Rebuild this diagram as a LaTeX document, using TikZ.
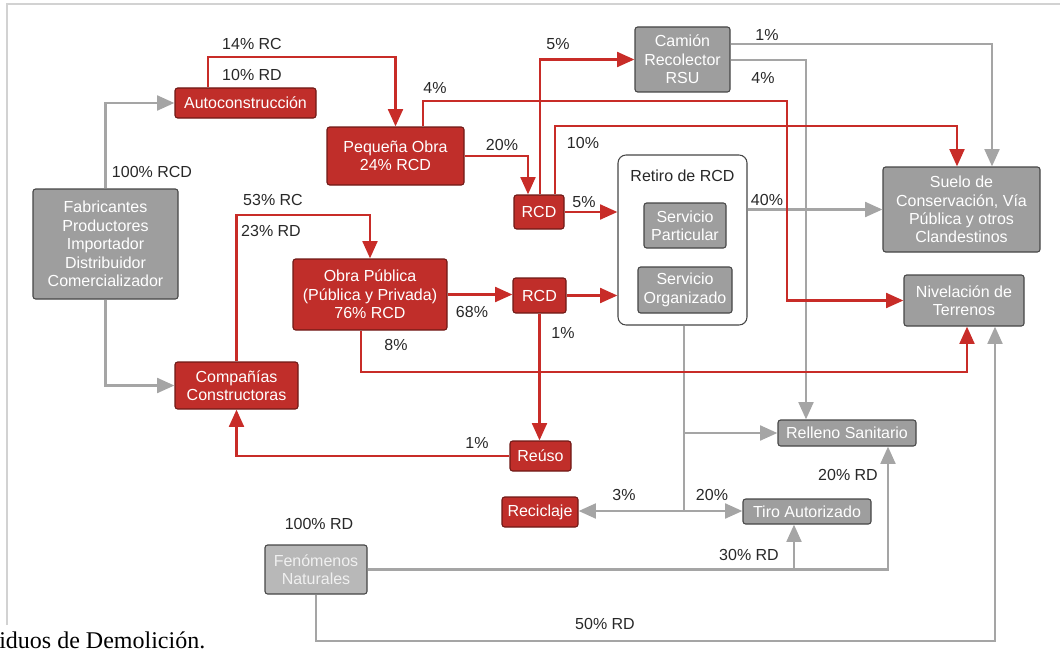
\documentclass[tikz,border=0pt]{standalone}
\usepackage{fontspec}
\setmainfont{Liberation Sans}
\newfontfamily\capfont{Liberation Serif}
\usepackage{tikz}
\usetikzlibrary{arrows.meta, positioning, calc}

\definecolor{boxred}{RGB}{192,46,42}
\definecolor{edgered}{RGB}{110,25,22}
\definecolor{linered}{RGB}{200,44,40}
\definecolor{boxgray}{RGB}{158,158,158}
\definecolor{edgegray}{RGB}{70,70,70}
\definecolor{linegray}{RGB}{165,165,165}
\definecolor{lightbox}{RGB}{184,184,184}
\definecolor{labeltext}{RGB}{40,40,40}
\definecolor{framegray}{RGB}{210,210,210}

\tikzstyle{redbox} = [
  rectangle, rounded corners=2pt, draw=edgered, line width=0.8pt,
  fill=boxred, text=white, align=center, inner sep=1pt,
  font=\fontsize{12}{13.8}\selectfont
]
\tikzstyle{graybox} = [redbox, draw=edgegray, fill=boxgray]
\tikzstyle{natbox} = [graybox, fill=lightbox, text=white!94!black]
\tikzstyle{groupbox} = [rectangle, rounded corners=6pt, draw=edgegray, line width=0.8pt, fill=white]
\tikzstyle{redarrow} = [-{Triangle[length=13pt,width=11pt]}, line width=2.2pt, linered]
\tikzstyle{grayarrow} = [-{Triangle[length=13pt,width=11pt]}, line width=2.2pt, linegray]
\tikzstyle{grayline} = [line width=2.2pt, linegray]
\tikzstyle{pct} = [text=labeltext, font=\fontsize{12}{13.8}\selectfont, inner sep=0pt]

\begin{document}
\begin{tikzpicture}[x=0.75pt, y=-0.75pt]

  \useasboundingbox (0,0) rectangle (1060,660);
  \draw[framegray, line width=0.8pt] (7,625) -- (7,4) -- (1060,4);

  % Objects
  \node[graybox, minimum width=108.75pt, minimum height=82.5pt] (fab) at (105.5,244)
    {Fabricantes\\Productores\\Importador\\Distribuidor\\Comercializador};
  \node[redbox, minimum width=105.75pt, minimum height=22.5pt] (auto) at (245.5,103) {Autoconstrucción};
  \node[redbox, minimum width=92.25pt, minimum height=35.25pt] (comp) at (236.5,385.5) {Compañías\\Constructoras};
  \node[redbox, minimum width=102.75pt, minimum height=43.5pt] (peq) at (395.5,156) {Pequeña Obra\\24\% RCD};
  \node[redbox, minimum width=115.5pt, minimum height=53.25pt] (obra) at (370,294.5) {Obra Pública\\(Pública y Privada)\\76\% RCD};
  \node[redbox, minimum width=37.5pt, minimum height=25.5pt] (rcda) at (539,212) {RCD};
  \node[redbox, minimum width=39.75pt, minimum height=26.25pt] (rcdb) at (539.5,295.5) {RCD};
  \node[redbox, minimum width=45.75pt, minimum height=22.5pt] (reuso) at (540.5,456) {Reúso};
  \node[redbox, minimum width=57pt, minimum height=22.5pt] (recic) at (540,512) {Reciclaje};
  \node[graybox, minimum width=71.25pt, minimum height=48.75pt] (cam) at (682.5,59.5) {Camión\\Recolector\\RSU};
  \node[groupbox, minimum width=96.75pt, minimum height=127.5pt] (retiro) at (682.5,240) {};
  \node[pct] (retirot) at (682.5,176) {Retiro de RCD};
  \node[graybox, minimum width=61.5pt, minimum height=33.75pt] (spart) at (685,225.5) {Servicio\\Particular};
  \node[graybox, minimum width=70.5pt, minimum height=34.5pt] (sorg) at (685,290) {Servicio\\Organizado};
  \node[graybox, minimum width=117.75pt, minimum height=63.75pt] (suelo) at (961.5,209.5)
    {Suelo de\\Conservación, Vía\\Pública y otros\\Clandestinos};
  \node[graybox, minimum width=90pt, minimum height=38.25pt] (nivel) at (964,300.5) {Nivelación de\\Terrenos};
  \node[graybox, minimum width=103.5pt, minimum height=19.5pt] (relleno) at (847,433) {Relleno Sanitario};
  \node[graybox, minimum width=96pt, minimum height=18.75pt] (tiro) at (807,511.5) {Tiro Autorizado};
  \node[natbox, minimum width=76.5pt, minimum height=36.75pt] (fen) at (316,569.5) {Fenómenos\\Naturales};

  % Gray flows
  \draw[grayarrow] (fab.north) |- (auto.west);
  \draw[grayarrow] (fab.south) |- (comp.west);
  \draw[grayarrow] (cam.east |- 0,44) -| (suelo.north -| 992,0);
  \draw[grayarrow] (cam.east |- 0,60) -| (relleno.north -| 806,0);
  \draw[grayarrow] (retiro.east |- suelo.west) -- (suelo.west);
  \draw[grayarrow] (retiro.south -| 684,0) |- (relleno.west);
  \coordinate (split) at (684,511);
  \draw[grayline] (retiro.south -| 684,0) -- (split);
  \draw[grayarrow] (split) -- (recic.east |- split);
  \draw[grayarrow] (split) -- (tiro.west |- split);
  \draw[grayarrow] (fen.east) -| (relleno.south -| 888,0);
  \draw[grayarrow] (fen.east -| 794,0) -- (tiro.south -| 794,0);
  \draw[grayarrow] (fen.south) |- (995,641) -- (nivel.south -| 995,0);

  % Red flows
  \draw[redarrow] (auto.north -| 208,0) |- (peq.north |- 0,57) -- (peq.north);
  \draw[redarrow] (peq.north -| 423,0) |- (787,101) |- (nivel.west);
  \draw[redarrow] (peq.east) -| (rcda.north -| 528,0);
  \draw[redarrow] (rcda.north -| 540,0) |- (cam.west);
  \draw[redarrow] (rcda.north -| 555,0) |- (957,126) -- (suelo.north -| 957,0);
  \draw[redarrow] (rcda.east) -- (rcda.east -| retiro.west);
  \draw[redarrow] (comp.north) |- (obra.north |- 0,215) -- (obra.north);
  \draw[redarrow] (obra.east) -- (obra.east -| rcdb.west);
  \draw[redarrow] (rcdb.east) -- (rcdb.east -| retiro.west);
  \draw[redarrow] (obra.south -| 361,0) |- (967,372) -- (nivel.south -| 967,0);
  \draw[redarrow] (rcdb.south) -- (rcdb.south |- reuso.north);
  \draw[redarrow] (reuso.west) -| (comp.south);

  % Percentages
  \node[pct] (p14rc) at (252,44) {14\% RC};
  \node[pct] (p10rd) at (252,75) {10\% RD};
  \node[pct] (p100rcd) at (152,172) {100\% RCD};
  \node[pct] (p4a) at (435,88) {4\%};
  \node[pct] (p20a) at (502,145) {20\%};
  \node[pct] (p5a) at (558,44) {5\%};
  \node[pct] (p10) at (583,143) {10\%};
  \node[pct] (p5b) at (584,202) {5\%};
  \node[pct] (p1a) at (767,35) {1\%};
  \node[pct] (p4b) at (763,78) {4\%};
  \node[pct] (p40) at (767,200) {40\%};
  \node[pct] (p53rc) at (273,200) {53\% RC};
  \node[pct] (p23rd) at (271,231) {23\% RD};
  \node[pct] (p68) at (472,312) {68\%};
  \node[pct] (p8) at (396,345) {8\%};
  \node[pct] (p1b) at (563,333) {1\%};
  \node[pct] (p1c) at (477,443) {1\%};
  \node[pct] (p3) at (624,495) {3\%};
  \node[pct] (p20b) at (712,495) {20\%};
  \node[pct] (p20rd) at (848,475) {20\% RD};
  \node[pct] (p30rd) at (749,555) {30\% RD};
  \node[pct] (p100rd) at (319,524) {100\% RD};
  \node[pct] (p50rd) at (605,624) {50\% RD};

  % Caption fragment
  \node[anchor=base west, inner sep=0pt, font=\capfont\fontsize{18}{20}\selectfont] (caption) at (-1,648)
    {iduos de Demolición.};

\end{tikzpicture}
\end{document}
